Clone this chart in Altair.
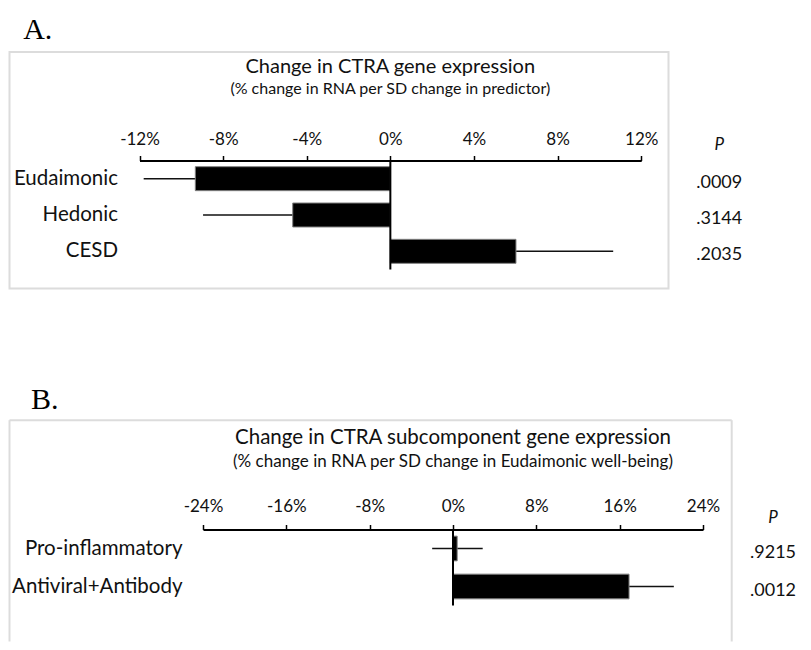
import altair as alt
import pandas as pd

# ---------------- data ----------------
cats_a = ["Eudaimonic", "Hedonic", "CESD"]
vals_a = [-9.33, -4.67, 6.01]
lo_a = [-11.8, -8.96, 1.37]
hi_a = [-6.86, -0.38, 10.66]
p_a = [".0009", ".3144", ".2035"]
ticks_a = [-12, -8, -4, 0, 4, 8, 12]

cats_b = ["Pro-inflammatory", "Antiviral+Antibody"]
vals_b = [0.4, 16.9]
lo_b = [-2.0, 12.6]
hi_b = [2.85, 21.2]
p_b = [".9215", ".0012"]
ticks_b = [-24, -16, -8, 0, 8, 16, 24]

title_a = "Change in CTRA gene expression"
sub_a = "(% change in RNA per SD change in predictor)"
title_b = "Change in CTRA subcomponent gene expression"
sub_b = "(% change in RNA per SD change in Eudaimonic well-being)"

FONT = "Lato"
SERIF = "Liberation Serif"
INK = "#111111"
FRAME = "#dcdcdc"


def one(**kw):
    return pd.DataFrame({k: [v] for k, v in kw.items()})


def panel(letter, title, subtitle, cats, vals, lo, hi, pv, ticks, w, h, g):
    df = pd.DataFrame({"cat": cats, "val": vals, "lo": lo, "hi": hi, "p": pv})
    xscale = alt.Scale(domain=[ticks[0], ticks[-1]], nice=False, zero=False,
                       range=g["xr"])
    xaxis = alt.Axis(orient="top", values=ticks, labelExpr="datum.value + '%'",
                     title=None, grid=False, tickSize=5, tickWidth=1.5,
                     tickColor="black", domainColor="black", domainWidth=2,
                     labelFont=FONT, labelFontSize=17, labelColor=INK,
                     labelBaseline="alphabetic", labelPadding=g["lp"],
                     labelFlush=False)
    yenc = alt.Y("cat:N", sort=cats,
                 scale=alt.Scale(paddingInner=g["pi"], paddingOuter=g["pi"] / 2),
                 axis=alt.Axis(title=None, ticks=False, domain=False, grid=False,
                               labelFont=FONT, labelFontSize=20.5, labelColor=INK,
                               labelPadding=g["yp"], labelLimit=300))
    base = alt.Chart(df)
    layers = []
    # frame
    fx1, fx2, fy1, fy2 = g["frame"]
    if g.get("closed", True):
        layers.append(alt.Chart(one(a=1)).mark_rect(fillOpacity=0, stroke=FRAME, strokeWidth=2).encode(
            x=alt.value(fx1), x2=alt.value(fx2), y=alt.value(fy1), y2=alt.value(fy2)))
    else:
        layers.append(alt.Chart(one(a=1)).mark_rule(color=FRAME, strokeWidth=2).encode(
            x=alt.value(fx1), y=alt.value(fy1), y2=alt.value(fy2)))
        layers.append(alt.Chart(one(a=1)).mark_rule(color=FRAME, strokeWidth=2).encode(
            x=alt.value(fx2), y=alt.value(fy1), y2=alt.value(fy2)))
        layers.append(alt.Chart(one(a=1)).mark_rule(color=FRAME, strokeWidth=2).encode(
            x=alt.value(fx1), x2=alt.value(fx2), y=alt.value(fy1)))
    err = base.mark_rule(color=INK, strokeWidth=1.5).encode(
        x=alt.X("lo:Q", scale=xscale, axis=xaxis), x2="hi:Q", y=yenc)
    bars = base.mark_bar(fill="black", stroke="#7f7f7f", strokeWidth=1).encode(
        x=alt.X("val:Q", scale=xscale, axis=xaxis), x2=alt.datum(0), y=yenc)
    zero = alt.Chart(one(z=0)).mark_rule(color="black", strokeWidth=2).encode(
        x=alt.X("z:Q", scale=xscale, axis=xaxis))
    ptxt = base.mark_text(font=FONT, fontSize=18, color=INK, align="center",
                          baseline="middle", dy=4).encode(
        x=alt.value(g["px"]), y=yenc, text="p:N")
    phead = alt.Chart(one(t="P")).mark_text(font=FONT, fontSize=17, fontStyle="italic",
                                           color=INK, align="center", baseline="alphabetic").encode(
        x=alt.value(g["px"]), y=alt.value(g["phy"]), text="t:N")
    let = alt.Chart(one(t=letter)).mark_text(font=SERIF, fontSize=30, color="black",
                                            align="left", baseline="alphabetic").encode(
        x=alt.value(g["lx"]), y=alt.value(g["ly"]), text="t:N")
    tt = alt.Chart(one(t=title)).mark_text(font=FONT, fontSize=g["tfs"], color=INK,
                                          align="center", baseline="alphabetic").encode(
        x=alt.value(g["tx"]), y=alt.value(g["ty"]), text="t:N")
    st = alt.Chart(one(t=subtitle)).mark_text(font=FONT, fontSize=g["sfs"], color=INK,
                                             align="center", baseline="alphabetic").encode(
        x=alt.value(g["tx"]), y=alt.value(g["sty"]), text="t:N")
    layers += [err, bars, zero, ptxt, phead, let, tt, st]
    return alt.layer(*layers).properties(width=w, height=h)


# both panels share the same plot origin (x = 202.8 px on the page)
geo_a = dict(xr=[-63.5, 438.2], pi=0.34, lp=11.5, yp=85.5, px=516.2, phy=-11,
             lx=-179.8, ly=-122, tx=187.3, ty=-87.3, sty=-66.8, tfs=20, sfs=16,
             frame=(-193.5, 465.5, -108.6, 128), closed=True)
geo_b = dict(xr=[0, 500], pi=0.35, lp=13.5, yp=21, px=570, phy=-6.8,
             lx=-172.1, ly=-121, tx=250, ty=-85.3, sty=-62.3, tfs=20.5, sfs=17,
             frame=(-193.5, 528.7, -109.3, 112), closed=False)

pa = panel("A.", title_a, sub_a, cats_a, vals_a, lo_a, hi_a, p_a, ticks_a, 500, 109, geo_a)
pb = panel("B.", title_b, sub_b, cats_b, vals_b, lo_b, hi_b, p_b, ticks_b, 500, 76, geo_b)

chart = alt.vconcat(pa, pb, spacing=95).properties(
    padding={"left": 0, "top": 6.5, "right": 0, "bottom": 0}
).configure_view(stroke=None)

chart.save("out.html", embed_options={"renderer": "svg", "actions": False})
